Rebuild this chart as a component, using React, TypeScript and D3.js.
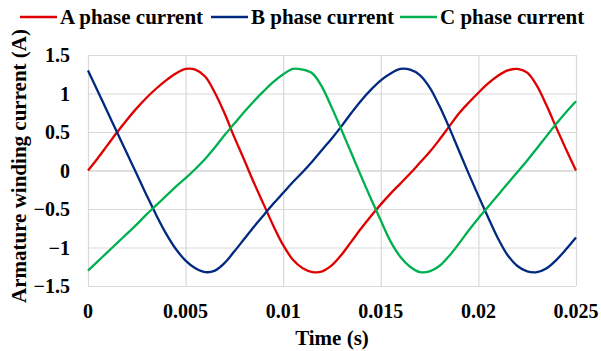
import { useEffect, useRef } from 'react';
import * as d3 from 'd3';

// time axis samples (s), one every 0.5 ms
const times: number[] = d3.range(0, 51).map(i => +(i * 0.0005).toFixed(4));

const phaseA = [
  0, 0.16, 0.33, 0.5, 0.66, 0.81, 0.945, 1.065, 1.17, 1.26,
  1.32, 1.31, 1.22, 1.01, 0.74, 0.43, 0.14, -0.16, -0.44, -0.72,
  -0.97, -1.16, -1.27, -1.32, -1.31, -1.23, -1.09, -0.92, -0.75, -0.59,
  -0.44, -0.3, -0.17, -0.04, 0.1, 0.24, 0.4, 0.57, 0.74, 0.88,
  1.01, 1.13, 1.23, 1.3, 1.32, 1.27, 1.1, 0.84, 0.55, 0.27,
  0,
];
const phaseB = [
  1.3, 1.03, 0.76, 0.49, 0.22, -0.05, -0.32, -0.58, -0.82, -1.02,
  -1.17, -1.27, -1.32, -1.3, -1.2, -1.05, -0.89, -0.73, -0.58, -0.43,
  -0.29, -0.15, -0.02, 0.12, 0.27, 0.42, 0.58, 0.75, 0.91, 1.05,
  1.17, 1.26, 1.32, 1.31, 1.24, 1.08, 0.84, 0.56, 0.26, -0.04,
  -0.33, -0.61, -0.88, -1.1, -1.24, -1.31, -1.32, -1.27, -1.16, -1.02,
  -0.87,
];
const phaseC = [
  -1.3, -1.18, -1.06, -0.94, -0.82, -0.7, -0.57, -0.45, -0.33, -0.21,
  -0.1, 0.02, 0.15, 0.3, 0.46, 0.61, 0.76, 0.9, 1.03, 1.15,
  1.25, 1.32, 1.31, 1.26, 1.08, 0.81, 0.52, 0.22, -0.08, -0.37,
  -0.65, -0.92, -1.12, -1.25, -1.32, -1.31, -1.24, -1.11, -0.95, -0.78,
  -0.62, -0.47, -0.32, -0.17, -0.02, 0.13, 0.29, 0.45, 0.61, 0.76,
  0.9,
];

const seriesNames = ['A phase current', 'B phase current', 'C phase current'];
const seriesColors = ['#e00000', '#002a80', '#00b050'];
const xTicks = [0, 0.005, 0.01, 0.015, 0.02, 0.025];
const yTicks = [-1.5, -1, -0.5, 0, 0.5, 1, 1.5];

const FONT = '"Liberation Serif", "Times New Roman", serif';

export default function App() {
  const svgRef = useRef<SVGSVGElement>(null);

  useEffect(() => {
    const width = 601, height = 351;
    const margin = { top: 55, right: 25, bottom: 65, left: 88 };
    const svg = d3.select(svgRef.current);
    svg.selectAll('*').remove();
    svg.attr('width', width).attr('height', height);

    const x = d3.scaleLinear().domain([0, 0.025]).range([margin.left, width - margin.right]);
    const y = d3.scaleLinear().domain([-1.5, 1.5]).range([height - margin.bottom, margin.top]);

    // grid
    svg.append('g').selectAll('line').data(yTicks).join('line')
      .attr('x1', x(0)).attr('x2', x(0.025))
      .attr('y1', d => y(d) + 0.5).attr('y2', d => y(d) + 0.5)
      .attr('stroke', d => d === 0 ? '#bfbfbf' : '#d9d9d9').attr('stroke-width', 1.2);
    svg.append('g').selectAll('line').data(xTicks).join('line')
      .attr('x1', d => x(d) + 0.5).attr('x2', d => x(d) + 0.5)
      .attr('y1', y(1.5)).attr('y2', y(-1.5))
      .attr('stroke', '#d9d9d9').attr('stroke-width', 1.2);

    // curves
    const data = [phaseA, phaseB, phaseC];
    const line = d3.line<number>()
      .x((_, i) => x(times[i]))
      .y(d => y(d))
      .curve(d3.curveCatmullRom.alpha(0.5));
    svg.append('g').selectAll('path').data(data).join('path')
      .attr('d', d => line(d))
      .attr('fill', 'none')
      .attr('stroke', (_, i) => seriesColors[i])
      .attr('stroke-width', 2.3);

    // tick labels
    svg.append('g').selectAll('text').data(yTicks).join('text')
      .attr('x', 70).attr('y', d => y(d)).attr('dy', '0.35em')
      .attr('text-anchor', 'end')
      .attr('font-family', FONT).attr('font-weight', 'bold').attr('font-size', 20)
      .text(d => d3.format('')(d));
    svg.append('g').selectAll('text').data(xTicks).join('text')
      .attr('x', d => x(d)).attr('y', 318)
      .attr('text-anchor', 'middle')
      .attr('font-family', FONT).attr('font-weight', 'bold').attr('font-size', 20)
      .text(d => d3.format('')(d));

    // axis titles
    svg.append('text')
      .attr('x', x(0.0125)).attr('y', 345)
      .attr('text-anchor', 'middle')
      .attr('font-family', FONT).attr('font-weight', 'bold').attr('font-size', 21)
      .text('Time (s)');
    svg.append('text')
      .attr('transform', `translate(26,166) rotate(-90)`)
      .attr('text-anchor', 'middle')
      .attr('font-family', FONT).attr('font-weight', 'bold').attr('font-size', 21)
      .text('Armature winding current (A)');

    // legend
    const legendX = [20, 211, 400];
    const lg = svg.append('g').selectAll('g').data(seriesNames).join('g')
      .attr('transform', (_, i) => `translate(${legendX[i]},0)`);
    lg.append('line')
      .attr('x1', 0).attr('x2', 37).attr('y1', 17).attr('y2', 17)
      .attr('stroke', (_, i) => seriesColors[i]).attr('stroke-width', 2.5);
    lg.append('text')
      .attr('x', 40).attr('y', 24)
      .attr('font-family', FONT).attr('font-weight', 'bold').attr('font-size', 21)
      .text(d => d);
  }, []);

  return (
    <svg ref={svgRef} style={{ position: 'absolute', left: 0, top: 0, background: '#fff' }} />
  );
}
